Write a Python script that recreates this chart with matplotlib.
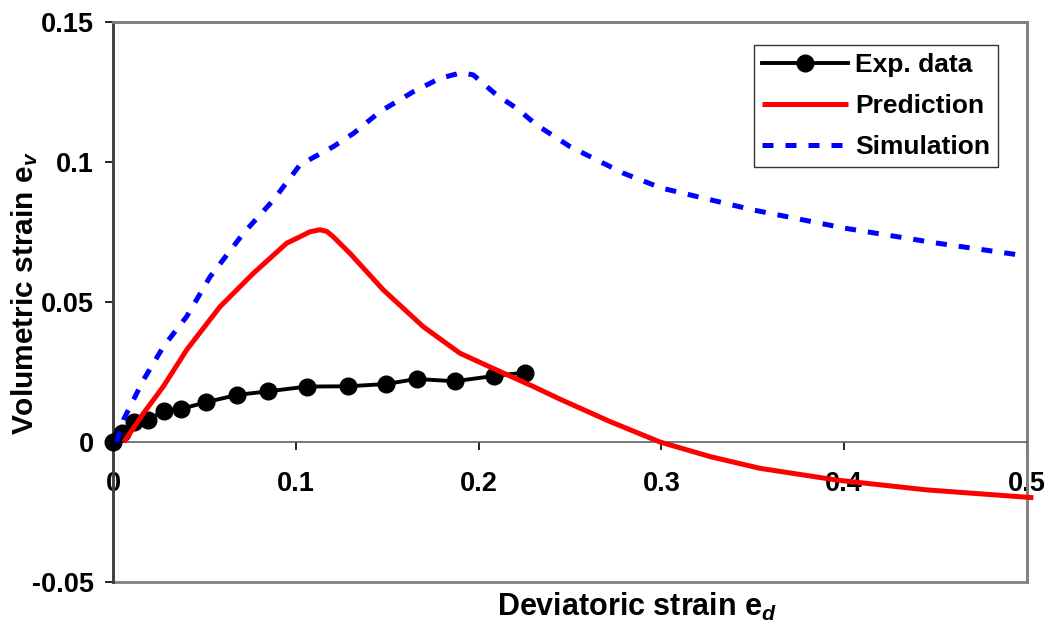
import matplotlib
matplotlib.use('Agg')
import matplotlib.pyplot as plt
from matplotlib.patches import Rectangle

plt.rcParams['font.family'] = ['Liberation Sans', 'DejaVu Sans']
plt.rcParams['font.weight'] = 'bold'
plt.rcParams['mathtext.fontset'] = 'custom'
plt.rcParams['mathtext.rm'] = 'Liberation Sans'
plt.rcParams['mathtext.it'] = 'Liberation Sans:italic:bold'
plt.rcParams['mathtext.bf'] = 'Liberation Sans:bold'

# Experimental data
exp_x = [0.0, 0.0048, 0.0117, 0.019, 0.0281, 0.0372, 0.0509, 0.0677, 0.085,
         0.106, 0.1287, 0.1492, 0.1661, 0.1871, 0.2084, 0.2254]
exp_y = [0.0, 0.0033, 0.0073, 0.0079, 0.0112, 0.0118, 0.0142, 0.0168, 0.0181,
         0.0198, 0.0199, 0.0207, 0.0225, 0.0217, 0.0236, 0.0248]

# Model prediction
pred_x = [0.006, 0.0166, 0.0275, 0.0403, 0.0585, 0.0767, 0.095, 0.1023, 0.1078,
          0.1132, 0.117, 0.1205, 0.1296, 0.1479, 0.1697, 0.1898, 0.2099, 0.23,
          0.2445, 0.2719, 0.2992, 0.3266, 0.3539, 0.3959, 0.4451, 0.5035]
pred_y = [0.0, 0.0102, 0.0198, 0.0329, 0.0483, 0.0602, 0.071, 0.0733, 0.0751,
          0.0758, 0.0752, 0.0733, 0.0674, 0.0543, 0.0412, 0.0317, 0.0257, 0.0198,
          0.0153, 0.0073, 0.0, -0.0052, -0.0094, -0.0136, -0.0171, -0.0199]

# Simulation
sim_x = [0.002, 0.0057, 0.0166, 0.0275, 0.0403, 0.0531, 0.0713, 0.0877, 0.1023,
         0.1205, 0.1315, 0.1461, 0.1643, 0.1789, 0.1907, 0.1971, 0.2099, 0.2208,
         0.2318, 0.25, 0.2792, 0.3, 0.35, 0.4, 0.45, 0.5]
sim_y = [0.0, 0.0079, 0.0221, 0.034, 0.0448, 0.059, 0.0745, 0.0864, 0.099,
         0.1055, 0.1102, 0.118, 0.1251, 0.1299, 0.1319, 0.1311, 0.1239, 0.1192,
         0.1132, 0.1055, 0.096, 0.0907, 0.0829, 0.0764, 0.0711, 0.0664]

x_ticks = [0, 0.1, 0.2, 0.3, 0.4, 0.5]
x_labels = ['0', '0.1', '0.2', '0.3', '0.4', '0.5']
y_ticks = [-0.05, 0, 0.05, 0.1, 0.15]
y_labels = ['-0.05', '0', '0.05', '0.1', '0.15']

fig = plt.figure(figsize=(10.49, 6.26), dpi=100)
ax = fig.add_axes([113 / 1049, 44 / 626, 914 / 1049, 560 / 626])

ax.plot(exp_x, exp_y, color='black', lw=2.8, marker='o', ms=12,
        label='Exp. data', zorder=3, clip_on=False)
ax.plot(pred_x, pred_y, color='#ff0000', lw=3.6, label='Prediction',
        zorder=4, clip_on=False, solid_capstyle='butt')
ax.plot(sim_x, sim_y, color='#0000ff', lw=3.6, dashes=(2.2, 2.4),
        dash_capstyle='butt', label='Simulation', zorder=5)

ax.set_xlim(0, 0.5)
ax.set_ylim(-0.05, 0.15)

# x axis line at y = 0, plot area border in grey
ax.spines['bottom'].set_position(('data', 0))
ax.spines['bottom'].set_color('#606060')
ax.spines['bottom'].set_linewidth(1.2)
ax.spines['left'].set_color('#404040')
ax.spines['left'].set_linewidth(2)
for s in ['top', 'right']:
    ax.spines[s].set_color('#808080')
    ax.spines[s].set_linewidth(2)
ax.add_patch(Rectangle((0, 0), 1, 1, transform=ax.transAxes, fill=False,
                       edgecolor='#808080', lw=2, clip_on=False, zorder=0.5))

ax.set_xticks(x_ticks)
ax.set_xticklabels(x_labels)
ax.set_yticks(y_ticks)
ax.set_yticklabels(y_labels)
ax.tick_params(axis='both', direction='out', length=6, width=1.2,
               labelsize=19.5, colors='black')
ax.tick_params(axis='x', pad=15)
ax.tick_params(axis='y', pad=8)

fig.text(777 / 1049, 1 - 607 / 626, r'Deviatoric strain $\mathrm{e}_{d}$',
         fontsize=22, ha='right', va='center')
fig.text(25 / 1049, 1 - 293 / 626, r'Volumetric strain $\mathrm{e}_{v}$',
         fontsize=21.5, ha='center', va='center', rotation=90)

leg = ax.legend(loc='upper right', bbox_to_anchor=(0.968, 0.959),
                numpoints=1, fancybox=False, frameon=True, handlelength=3.26,
                prop={'weight': 'bold', 'size': 19}, borderpad=0.3,
                labelspacing=0.65, handletextpad=0.25, borderaxespad=0)
leg.get_frame().set_edgecolor('black')
leg.get_frame().set_linewidth(1.0)

fig.savefig('out.png', dpi=100)
